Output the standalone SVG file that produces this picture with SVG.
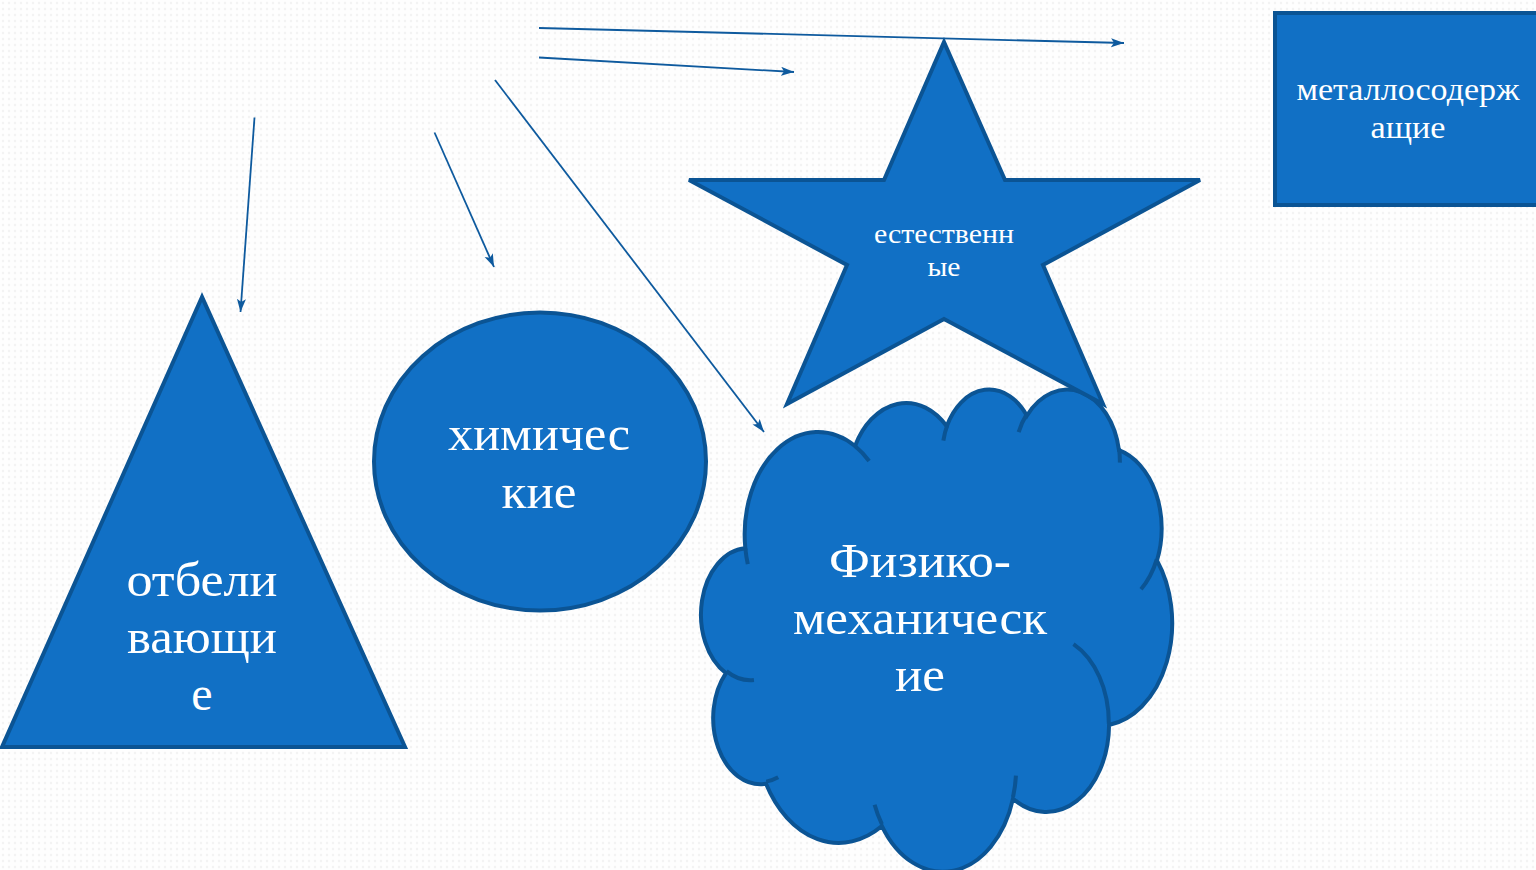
<svg xmlns="http://www.w3.org/2000/svg" width="1536" height="870" viewBox="0 0 1536 870">
<defs>
<pattern id="bg" width="6" height="6" patternUnits="userSpaceOnUse">
<rect width="6" height="6" fill="#FEFEFE"/>
<circle cx="3" cy="3" r="1.2" fill="#F3F3F3"/>
</pattern>
<marker id="ah" markerUnits="userSpaceOnUse" markerWidth="14" markerHeight="10" refX="13" refY="4.5" orient="auto">
<path d="M0,0 L13,4.5 L0,9 L3,4.5 Z" fill="#0E5A9E"/>
</marker>
<style>
.shape{fill:#1170C5;stroke:#0B5494;stroke-width:4;stroke-linejoin:miter}
.conn{stroke:#0E5A9E;stroke-width:1.8;fill:none;marker-end:url(#ah)}
.t{fill:#FFFFFF;font-family:"Liberation Serif","DejaVu Serif",serif;text-anchor:middle}
.big{font-size:48px}
.mid{font-size:32px}
.sm{font-size:27px}
</style>
</defs>
<rect width="1536" height="870" fill="url(#bg)"/>

<g id="node-triangle">
<polygon class="shape" points="202,297 2,747 405,747"/>
<text class="t big" x="202" y="596" textLength="151" lengthAdjust="spacingAndGlyphs">отбели</text>
<text class="t big" x="202" y="653" textLength="150" lengthAdjust="spacingAndGlyphs">вающи</text>
<text class="t big" x="202" y="710">е</text>
</g>

<g id="node-ellipse">
<ellipse class="shape" cx="540" cy="461.5" rx="166" ry="149"/>
<text class="t big" x="539" y="450" textLength="182" lengthAdjust="spacingAndGlyphs">химичес</text>
<text class="t big" x="539" y="508" textLength="75" lengthAdjust="spacingAndGlyphs">кие</text>
</g>

<g id="node-cloud">
<g transform="translate(703,388) scale(0.010856,0.011157)">
<path class="shape" vector-effect="non-scaling-stroke" d="M3900,14370 A6753,9190 0 0 1 14004.7,5201.8 A5333,7267 0 0 1 22456.1,3430.5 A4365,5945 0 0 1 29833.5,2479.7 A4857,6595 0 0 1 38318.8,5574.8 A5333,7273 0 0 1 41819.3,15458.5 A6775,9220 0 0 1 37404.3,30200.1 A5785,7867 0 0 1 28555.9,36810.3 A6752,9215 0 0 1 16482.3,39265.7 A7720,10543 0 0 1 5805.8,35470.7 A4360,5918 0 0 1 2113.4,25550.5 A4345,5945 0 0 1 3900,14370 Z"/>
<path vector-effect="non-scaling-stroke" fill="none" stroke="#0B5494" stroke-width="4" d="M4693,26177 A4345,5945 0 0 1 2159,25380 M6928,34899 A4360,5918 0 0 1 5820,35280 M16478,39090 A6752,9215 0 0 1 15808,37346 M28827,34751 A6752,9215 0 0 1 28560,36660 M34129,22954 A5785,7867 0 0 1 37381,30090 M41798,15354 A5333,7273 0 0 1 40349,18031 M38324,5426 A4857,6595 0 0 1 38400,6690 M29078,3952 A4857,6595 0 0 1 29820,2340 M22141,4720 A4365,5945 0 0 1 22500,3330 M14000,5192 A6753,9190 0 0 1 15300,6541 M4127,15789 A6753,9190 0 0 1 3900,14371"/>
</g>
<text class="t big" x="920" y="577" textLength="182" lengthAdjust="spacingAndGlyphs">Физико-</text>
<text class="t big" x="920" y="634" textLength="254" lengthAdjust="spacingAndGlyphs">механическ</text>
<text class="t big" x="920" y="691" textLength="50" lengthAdjust="spacingAndGlyphs">ие</text>
</g>

<g id="node-star">
<polygon class="shape" points="944,42 1005,180 1200,180 1043,265 1103,404 944,319 787,404 847,265 689,180 884,180"/>
<text class="t sm" x="944" y="243" textLength="140" lengthAdjust="spacingAndGlyphs">естественн</text>
<text class="t sm" x="944" y="276" textLength="33" lengthAdjust="spacingAndGlyphs">ые</text>
</g>

<g id="node-rect">
<rect class="shape" x="1275" y="13" width="280" height="192"/>
<text class="t mid" x="1408" y="100" textLength="223" lengthAdjust="spacingAndGlyphs">металлосодерж</text>
<text class="t mid" x="1408" y="138" textLength="75" lengthAdjust="spacingAndGlyphs">ащие</text>
</g>

<g id="connectors">
<line class="conn" x1="539" y1="28" x2="1124" y2="43"/>
<line class="conn" x1="539" y1="57.5" x2="794" y2="72"/>
<line class="conn" x1="495" y1="80" x2="764" y2="432"/>
<line class="conn" x1="434.5" y1="132.5" x2="494" y2="267"/>
<line class="conn" x1="254.5" y1="117.5" x2="240.5" y2="312"/>
</g>
</svg>
